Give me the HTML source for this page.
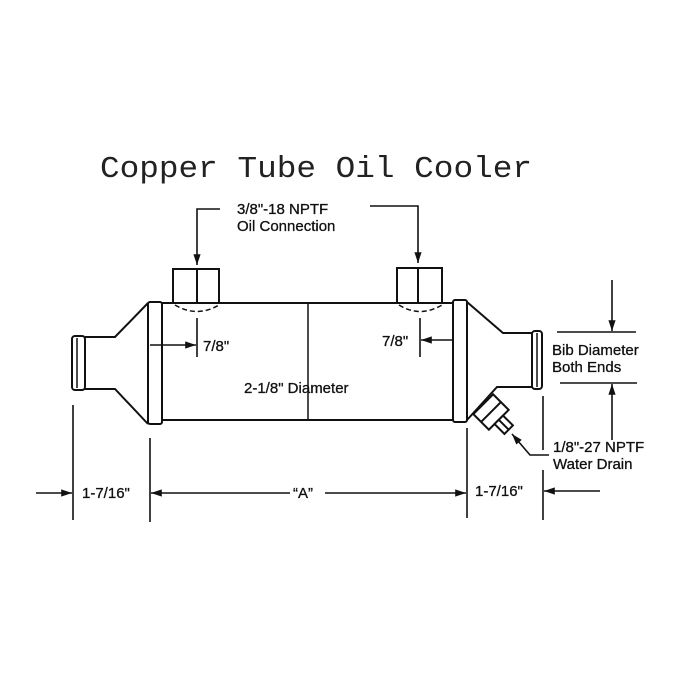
<!DOCTYPE html>
<html><head><meta charset="utf-8"><style>
html,body{margin:0;padding:0;background:#fff;}
svg{display:block;}
.t{font-family:"Liberation Sans",Arial,sans-serif;font-size:15px;fill:#111;stroke:#111;stroke-width:0.3;}
</style></head><body>
<svg width="690" height="690" viewBox="0 0 690 690" xmlns="http://www.w3.org/2000/svg">
<defs>
<marker id="a" viewBox="0 0 12 10" refX="12" refY="5" markerWidth="12" markerHeight="9" markerUnits="userSpaceOnUse" orient="auto"><path d="M0,1 L12,5 L0,9 Z" fill="#111"/></marker>
</defs>
<text x="100" y="177" font-family="Liberation Mono, monospace" font-size="31" fill="#222" textLength="432" lengthAdjust="spacingAndGlyphs">Copper Tube Oil Cooler</text>

<g stroke="#111" stroke-width="2" fill="none">
<line x1="162" y1="303" x2="453" y2="303"/>
<line x1="162" y1="420" x2="453" y2="420"/>
<rect x="148" y="302" width="14" height="122" rx="2"/>
<rect x="453" y="300" width="14" height="122" rx="2"/>
<polyline points="148,303 115,337 85,337"/>
<polyline points="148,424 115,389 85,389"/>
<rect x="72" y="336" width="13" height="54" rx="3"/>
<line x1="77" y1="338" x2="77" y2="388" stroke-width="1.5"/>
<polyline points="467,302 503,333 532,333"/>
<polyline points="467,420 497,387 532,387"/>
<rect x="532" y="331" width="10" height="58" rx="3"/>
<line x1="537" y1="333" x2="537" y2="387" stroke-width="1.5"/>
<rect x="173" y="269" width="46" height="34"/>
<line x1="197" y1="269" x2="197" y2="303"/>
<rect x="397" y="268" width="45" height="35"/>
<line x1="418" y1="268" x2="418" y2="303"/>
<path d="M175,305 Q197,318 219,305" stroke-dasharray="5,3" stroke-width="1.5"/>
<path d="M399,305 Q420,318 442,305" stroke-dasharray="5,3" stroke-width="1.5"/>
<g transform="translate(491,412) rotate(-45)">
<rect x="-14" y="-11" width="28" height="22" fill="#fff"/>
<line x1="-14" y1="0" x2="14" y2="0"/>
<rect x="-6" y="11" width="12" height="14" fill="#fff"/>
<line x1="0" y1="11" x2="0" y2="25"/>
</g>
<line x1="308" y1="304" x2="308" y2="420" stroke-width="1.5"/>
</g>

<g stroke="#111" stroke-width="1.6" fill="none">
<polyline points="220,209 197,209 197,265" marker-end="url(#a)"/>
<polyline points="370,206 418,206 418,263" marker-end="url(#a)"/>
<line x1="197" y1="318" x2="197" y2="357"/>
<line x1="150" y1="345" x2="196" y2="345" marker-end="url(#a)"/>
<line x1="420" y1="318" x2="420" y2="357"/>
<line x1="453" y1="340" x2="421" y2="340" marker-end="url(#a)"/>
<line x1="557" y1="332" x2="636" y2="332"/>
<line x1="560" y1="383" x2="637" y2="383"/>
<line x1="612" y1="280" x2="612" y2="331" marker-end="url(#a)"/>
<line x1="612" y1="440" x2="612" y2="384" marker-end="url(#a)"/>
<polyline points="549,455 530,455 512,434" marker-end="url(#a)"/>
<line x1="73" y1="405" x2="73" y2="520"/>
<line x1="150" y1="438" x2="150" y2="522"/>
<line x1="467" y1="428" x2="467" y2="518"/>
<line x1="543" y1="396" x2="543" y2="450"/>
<line x1="543" y1="470" x2="543" y2="520"/>
<line x1="36" y1="493" x2="72" y2="493" marker-end="url(#a)"/>
<line x1="290" y1="493" x2="151" y2="493" marker-end="url(#a)"/>
<line x1="325" y1="493" x2="466" y2="493" marker-end="url(#a)"/>
<line x1="600" y1="491" x2="544" y2="491" marker-end="url(#a)"/>
</g>

<text class="t" x="237" y="214">3/8"-18 NPTF</text>
<text class="t" x="237" y="231">Oil Connection</text>
<text class="t" x="203" y="351">7/8"</text>
<text class="t" x="382" y="346">7/8"</text>
<text class="t" x="244" y="393">2-1/8" Diameter</text>
<text class="t" x="552" y="355">Bib Diameter</text>
<text class="t" x="552" y="372">Both Ends</text>
<text class="t" x="553" y="452">1/8"-27 NPTF</text>
<text class="t" x="553" y="469">Water Drain</text>
<text class="t" x="82" y="498">1-7/16"</text>
<text class="t" x="293" y="498">“A”</text>
<text class="t" x="475" y="496">1-7/16"</text>
</svg>
</body></html>
